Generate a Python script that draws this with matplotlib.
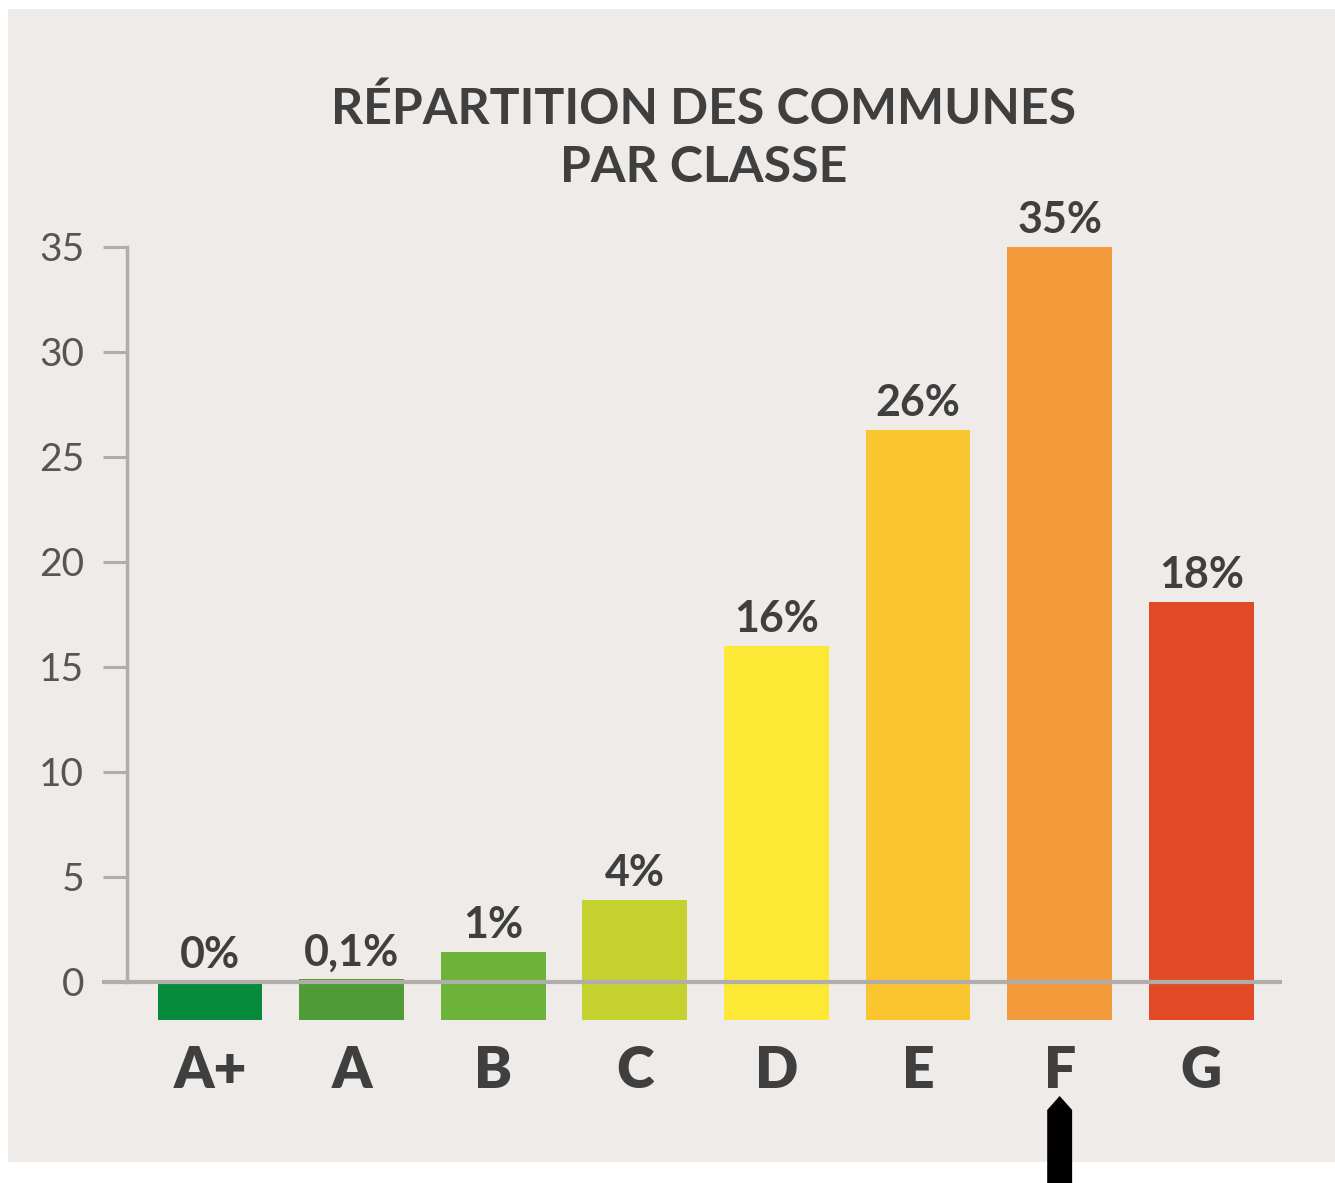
import matplotlib
matplotlib.use("Agg")
import matplotlib.pyplot as plt
from matplotlib.patches import Rectangle, Polygon
from matplotlib.transforms import blended_transform_factory

categories = ["A+", "A", "B", "C", "D", "E", "F", "G"]
values = [0.0, 0.1, 1.4, 3.9, 16.0, 26.3, 35.0, 18.1]
value_labels = ["0%", "0,1%", "1%", "4%", "16%", "26%", "35%", "18%"]
colors = ["#068a3b", "#4f9c37", "#6db33a", "#c5d12e", "#fde935", "#fbc52f", "#f39a3b", "#e24a26"]
yticks = [0, 5, 10, 15, 20, 25, 30, 35]
title = "RÉPARTITION DES COMMUNES\nPAR CLASSE"
highlight = "F"

BG = "#eeebe8"
TXT = "#3f3f3f"
GRID = "#b0adab"
BASE = -1.85

W, H = 1335, 1183
fig = plt.figure(figsize=(W / 100, H / 100), dpi=100, facecolor="white")
fig.patches.append(Rectangle((8 / W, 21 / H), 1 - 8 / W, (1162 - 9) / H,
                             transform=fig.transFigure, facecolor=BG,
                             edgecolor="none", zorder=-5))

ax = fig.add_axes([127 / W, 1 - 1021.4 / H, (1282 - 127) / W, (1021.4 - 247) / H])
ax.set_facecolor("none")

x = list(range(len(categories)))
heights = [v - BASE for v in values]
ax.bar(x, heights, bottom=BASE, width=0.74, color=colors, zorder=2)

ax.set_xlim(-0.586, 7.57)
ax.set_ylim(-1.9, 35)

# zero line extending left past the spine
ax.plot([-0.76, 7.57], [0, 0], color=GRID, lw=3, zorder=3, clip_on=False,
        solid_capstyle="butt")

for xi, v, lab in zip(x, values, value_labels):
    ax.annotate(lab, (xi, max(v, 0)), xytext=(0, 10), textcoords="offset points",
                ha="center", va="baseline", fontsize=31, fontweight="bold",
                family="Lato", color=TXT, clip_on=False)

for s in ["top", "right", "bottom"]:
    ax.spines[s].set_visible(False)
ax.spines["left"].set_color(GRID)
ax.spines["left"].set_linewidth(2.5)
ax.spines["left"].set_bounds(0, 35)

ax.set_yticks(yticks)
ax.set_yticklabels([str(t) for t in yticks], family="Lato", fontweight="normal",
                   fontsize=28, color="#555555")
ax.tick_params(axis="y", length=17, width=2.2, color=GRID, pad=14)

ax.set_xticks(x)
ax.set_xticklabels(categories, family="Lato", fontweight="heavy", fontsize=41, color=TXT)
ax.tick_params(axis="x", length=0, pad=17)

fig.text(704 / W, 1 - 138 / H, title, ha="center", va="center", fontsize=36,
         fontweight="bold", family="Lato", color=TXT, linespacing=1.35)

# upward arrow under highlighted class
hx = categories.index(highlight)
tr = blended_transform_factory(ax.transData, fig.transFigure)
hw = 0.088
arrow = Polygon([(hx - hw, 0.0), (hx - hw, 1 - 1110 / H), (hx, 1 - 1096 / H),
                 (hx + hw, 1 - 1110 / H), (hx + hw, 0.0)], closed=True,
                transform=tr, facecolor="black", edgecolor="none", clip_on=False, zorder=5)
ax.add_patch(arrow)

fig.savefig("out.png", dpi=100, facecolor="white")
